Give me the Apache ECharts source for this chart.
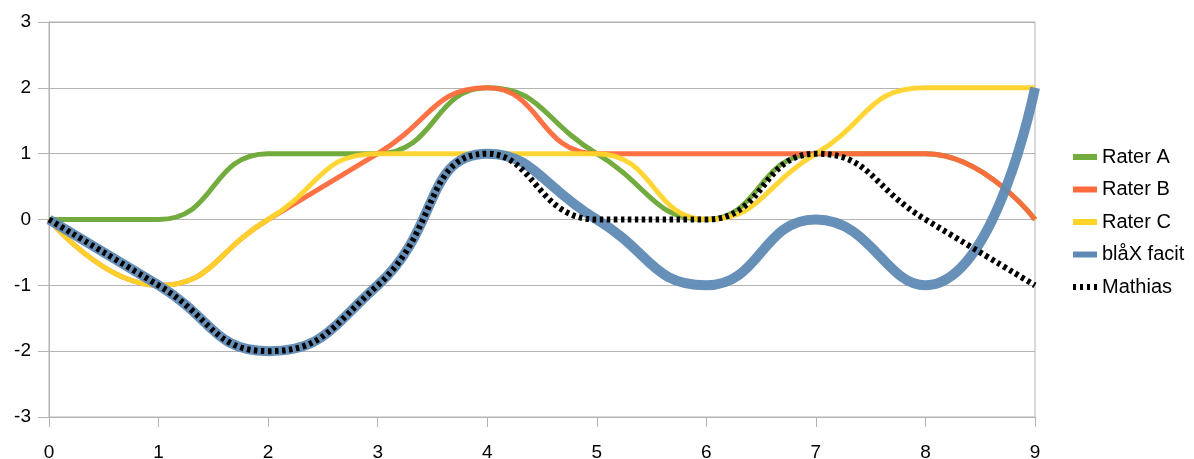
<!DOCTYPE html>
<html>
<head>
<meta charset="utf-8">
<script src="https://cdn.jsdelivr.net/npm/echarts@6/dist/echarts.min.js"></script>
<style>html,body{margin:0;padding:0;background:#fff}#c{width:1194px;height:459px}</style>
</head>
<body>
<div id="c"></div>
<script>
const xValues = [0, 1, 2, 3, 4, 5, 6, 7, 8, 9];
const raterA = [0, 0, 1, 1, 2, 1, 0, 1, 1, 0];
const raterB = [0, -1, 0, 1, 2, 1, 1, 1, 1, 0];
const raterC = [0, -1, 0, 1, 1, 1, 0, 1, 2, 2];
const blaxFacit = [0, -1, -2, -1, 1, 0, -1, 0, -1, 2];
const mathias = [0, -1, -2, -1, 1, 0, 0, 1, 0, -1];
const seriesNames = ['Rater A', 'Rater B', 'Rater C', 'blåX facit', 'Mathias'];

const pairs = arr => xValues.map((x, i) => [x, arr[i]]);
const font = 'Liberation Sans, Arial, sans-serif';
const gridColor = '#b3b3b3';
const dashIcon = 'path://M0,0h3v6h-3zM7,0h3v6h-3zM14,0h3v6h-3zM21,0h3v6h-3z';

const chart = echarts.init(document.getElementById('c'), null, {renderer: 'canvas'});
chart.setOption({
  animation: false,
  backgroundColor: '#ffffff',
  grid: {left: 49, right: 159, top: 22, bottom: 42, containLabel: false, outerBoundsMode: 'none', show: true, borderColor: gridColor, borderWidth: 1, backgroundColor: 'transparent'},
  xAxis: {
    type: 'value', min: 0, max: 9, interval: 1,
    axisLine: {show: true, onZero: false, lineStyle: {color: gridColor}},
    axisTick: {show: true, length: 10, lineStyle: {color: gridColor}},
    splitLine: {show: false},
    axisLabel: {color: '#000', fontSize: 19, fontFamily: font, margin: 26}
  },
  yAxis: {
    type: 'value', min: -3, max: 3, interval: 1,
    axisLine: {show: true, lineStyle: {color: gridColor}},
    axisTick: {show: true, length: 11, lineStyle: {color: gridColor}},
    splitLine: {show: true, lineStyle: {color: gridColor, width: 1}},
    axisLabel: {color: '#000', fontSize: 19, fontFamily: font, margin: 18}
  },
  legend: {
    orient: 'vertical', left: 1073, top: 147, itemGap: 12.5, padding: 0,
    itemWidth: 24, itemHeight: 6,
    textStyle: {color: '#000', fontSize: 20, lineHeight: 20, fontFamily: font},
    data: [
      {name: seriesNames[0], icon: 'rect'},
      {name: seriesNames[1], icon: 'rect'},
      {name: seriesNames[2], icon: 'rect'},
      {name: seriesNames[3], icon: 'rect'},
      {name: seriesNames[4], icon: dashIcon}
    ]
  },
  series: [
    {name: seriesNames[0], type: 'line', smooth: 0.5, symbol: 'none', data: pairs(raterA), color: '#72ab3e', lineStyle: {width: 5, color: '#72ab3e'}},
    {name: seriesNames[1], type: 'line', smooth: 0.5, symbol: 'none', data: pairs(raterB), color: '#ff6a3c', lineStyle: {width: 5, color: '#ff6a3c', opacity: 0.95}},
    {name: seriesNames[2], type: 'line', smooth: 0.5, symbol: 'none', data: pairs(raterC), color: '#ffd42a', lineStyle: {width: 5, color: '#ffd42a', opacity: 0.95}},
    {name: seriesNames[3], type: 'line', smooth: 0.5, symbol: 'none', data: pairs(blaxFacit), color: '#5f8ab5', lineStyle: {width: 10, color: '#5f8ab5', opacity: 0.95}},
    {name: seriesNames[4], type: 'line', smooth: 0.5, symbol: 'none', data: pairs(mathias), color: '#000000', lineStyle: {width: 6, color: '#000000', type: [3.5, 3.5], cap: 'butt'}}
  ]
});
</script>
</body>
</html>
